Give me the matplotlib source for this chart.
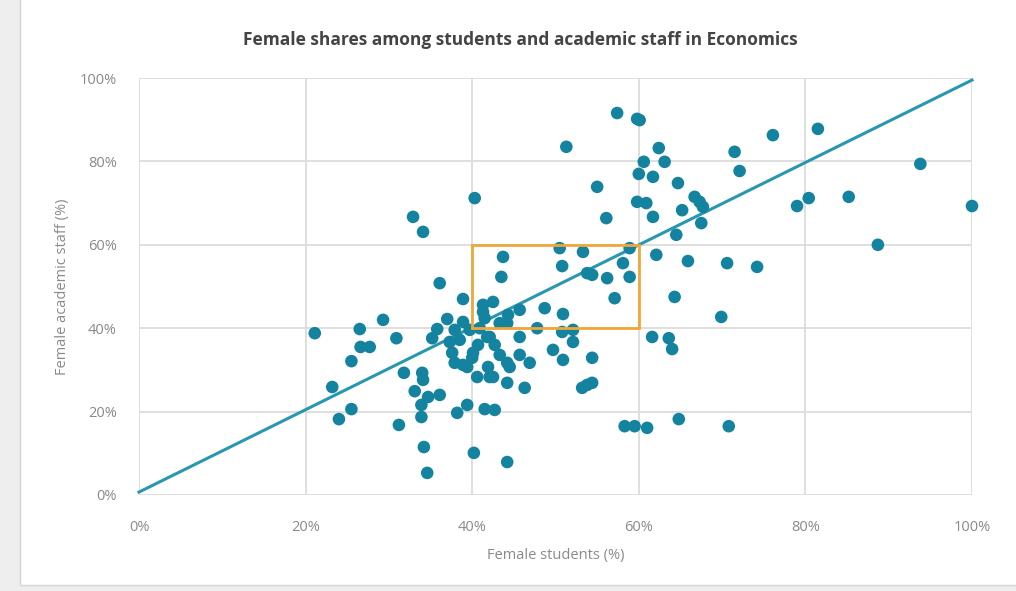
import matplotlib.pyplot as plt
from matplotlib.patches import Rectangle
from matplotlib.ticker import FuncFormatter

plt.rcParams['font.family'] = ['Open Sans', 'DejaVu Sans']

# female share among students (%) and among academic staff (%)
students = [
    21.1, 23.2, 24.0, 25.5, 25.5, 26.5, 26.6, 27.7, 29.3, 30.9,
    31.2, 31.8, 32.9, 34.1, 33.1, 33.9, 33.9, 34.0, 34.1, 34.7,
    36.1, 34.2, 34.6, 35.2, 35.8, 36.1, 37.0, 38.2, 39.4, 38.9,
    38.9, 40.2, 40.3, 41.5, 42.7, 44.2, 37.3, 38.5, 37.6, 37.9,
    38.9, 40.0, 40.7, 41.8, 41.3, 42.5, 41.5, 43.3, 44.2, 40.9,
    40.6, 41.9, 42.5, 44.2, 44.2, 43.7, 43.5, 45.7, 44.3, 41.3,
    47.8, 52.1, 50.8, 52.1, 49.7, 50.9, 54.4, 53.8, 54.4, 53.2,
    46.3, 44.5, 45.7, 46.9, 45.7, 42.1, 40.1, 39.4, 42.1, 48.7,
    50.9, 50.5, 53.3, 50.8, 53.8, 54.4, 56.2, 58.9, 58.1, 58.9,
    57.1, 57.4, 59.8, 60.1, 51.3, 62.4, 60.6, 63.1, 60.0, 61.7,
    64.7, 55.0, 66.7, 67.3, 67.7, 59.8, 60.9, 65.2, 61.7, 56.1,
    67.5, 64.5, 62.1, 65.9, 70.6, 74.2, 64.3, 69.9, 61.6, 63.6,
    64.0, 58.3, 59.5, 61.0, 64.8, 70.8, 71.5, 72.1, 76.1, 81.5,
    93.8, 79.0, 80.4, 85.2, 88.7, 100.0, 37.9, 39.7, 42.7, 43.3,
]
staff = [
    38.8, 25.9, 18.2, 20.6, 32.1, 39.8, 35.5, 35.5, 42.0, 37.6,
    16.8, 29.3, 66.7, 63.1, 24.9, 21.6, 18.7, 29.3, 27.6, 23.5,
    24.0, 11.5, 5.3, 37.6, 39.8, 50.8, 42.2, 19.7, 21.6, 47.0,
    41.5, 10.1, 71.2, 20.6, 20.4, 7.9, 36.7, 37.2, 34.1, 31.7,
    31.2, 32.9, 36.0, 37.9, 45.6, 46.3, 42.4, 41.2, 41.2, 40.0,
    28.3, 30.7, 28.3, 31.7, 26.9, 57.1, 52.3, 44.4, 43.2, 43.9,
    40.0, 39.6, 39.1, 36.7, 34.8, 32.4, 32.9, 26.4, 26.9, 25.7,
    25.7, 30.7, 33.6, 31.7, 37.9, 37.9, 34.1, 30.7, 28.3, 44.8,
    43.4, 59.2, 58.3, 54.9, 53.2, 52.8, 52.0, 59.2, 55.6, 52.3,
    47.2, 91.6, 90.2, 89.9, 83.5, 83.2, 79.9, 79.9, 77.0, 76.3,
    74.8, 73.9, 71.5, 70.3, 69.1, 70.3, 70.0, 68.3, 66.7, 66.4,
    65.2, 62.4, 57.6, 56.1, 55.6, 54.7, 47.5, 42.7, 37.9, 37.6,
    35.0, 16.5, 16.5, 16.1, 18.2, 16.5, 82.3, 77.7, 86.3, 87.8,
    79.4, 69.3, 71.2, 71.5, 60.0, 69.3, 39.6, 39.6, 36.0, 33.6,
]

# parity line and highlighted 40-60% box
line_x = [0, 100]
line_y = [0.7, 99.5]
box_x = [40, 60]
box_y = [40, 60]

ticks = [0, 20, 40, 60, 80, 100]

DOT = '#13839f'
LINE = '#2897b0'
BOX = '#f0a73a'
GRID = '#dcdcdc'
TXT = '#8a8a8a'

fig = plt.figure(figsize=(10.16, 5.91), dpi=100, facecolor='#eeeeee')
# white card behind everything
fig.patches.append(Rectangle((20 / 1016, 6 / 591), 1, 1, transform=fig.transFigure,
                             facecolor='white', edgecolor='#d4d4d4', lw=1, zorder=-5))

ax = fig.add_axes([139 / 1016, 1 - 495 / 591, (972 - 139) / 1016, (495 - 78) / 591])
ax.set_zorder(2)
ax.set_facecolor('white')

ax.plot(line_x, line_y, color=LINE, lw=2.2, zorder=3, clip_on=False)
ax.scatter(students, staff, s=82, color=DOT, edgecolors='none', zorder=4, clip_on=False)
ax.add_patch(Rectangle((box_x[0], box_y[0]), box_x[1] - box_x[0], box_y[1] - box_y[0],
                       fill=False, edgecolor=BOX, lw=2, zorder=5))

ax.set_xlim(0, 100)
ax.set_ylim(0, 100)
ax.set_xticks(ticks)
ax.set_yticks(ticks)
pct = FuncFormatter(lambda v, p: f"{v:.0f}%")
ax.xaxis.set_major_formatter(pct)
ax.yaxis.set_major_formatter(pct)
ax.tick_params(length=0, labelsize=10.5, labelcolor=TXT)
ax.tick_params(axis='x', pad=18)
ax.tick_params(axis='y', pad=16)
ax.grid(True, color=GRID, lw=1.3)
ax.set_axisbelow(True)
for s in ax.spines.values():
    s.set_visible(False)

ax.set_xlabel("Female students (%)", color=TXT, fontsize=10.5, labelpad=9)
ax.set_ylabel("Female academic staff (%)", color=TXT, fontsize=10.5, labelpad=7)

fig.text(0.512, 0.932, "Female shares among students and academic staff in Economics",
         ha='center', va='center', fontsize=12.5, fontweight='bold', color='#444444')

fig.savefig("out.png", dpi=100, facecolor=fig.get_facecolor())
